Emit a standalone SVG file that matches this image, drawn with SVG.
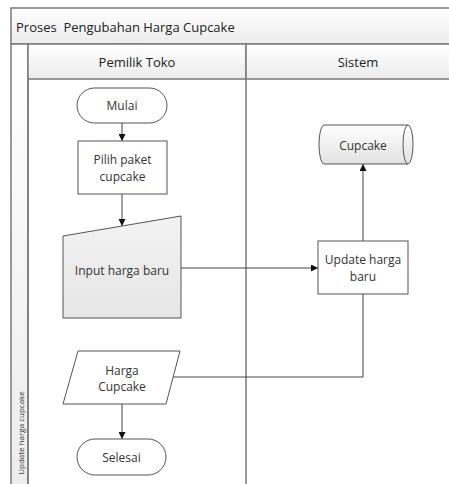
<svg xmlns="http://www.w3.org/2000/svg" width="449" height="484" viewBox="0 0 449 484">
<defs>
<linearGradient id="gBand" x1="0" y1="0" x2="0" y2="1">
<stop offset="0" stop-color="#ffffff"/><stop offset="1" stop-color="#ececec"/>
</linearGradient>
<linearGradient id="gShape" x1="0" y1="0" x2="0" y2="1">
<stop offset="0" stop-color="#f2f2f2"/><stop offset="1" stop-color="#e6e6e6"/>
</linearGradient>
<linearGradient id="gCyl" x1="0" y1="0" x2="0" y2="1">
<stop offset="0" stop-color="#ffffff"/><stop offset="1" stop-color="#e2e2e2"/>
</linearGradient>
<marker id="arr" viewBox="0 0 10 10" refX="10" refY="5" markerWidth="7" markerHeight="7" orient="auto" markerUnits="userSpaceOnUse">
<path d="M0,0 L10,5 L0,10 Z" fill="#111"/>
</marker>
</defs>
<style>
.frame{fill:none;stroke:#7a7a7a;stroke-width:1.5}
.node{fill:#ffffff;stroke:#555;stroke-width:1}
.t{font-family:"Open Sans","Liberation Sans",sans-serif;font-size:12px;fill:#333;text-anchor:middle;dominant-baseline:central}
.h{font-family:"Open Sans","Liberation Sans",sans-serif;font-size:13px;fill:#222;dominant-baseline:central;white-space:pre}
.c{fill:none;stroke:#444;stroke-width:1}
</style>
<rect width="449" height="484" fill="#ffffff"/>
<g id="pool">
<rect x="11" y="8" width="450" height="36" fill="url(#gBand)" stroke="#7a7a7a" stroke-width="1.5"/>
<text class="h" x="16" y="27" xml:space="preserve">Proses  Pengubahan Harga Cupcake</text>
<rect x="11" y="44" width="17" height="450" fill="url(#gBand)" stroke="#7a7a7a" stroke-width="1.5"/>
<text class="t" style="font-size:8px" transform="translate(20,433) rotate(-90)">Update harga cupcake</text>
</g>
<g id="lane-pemilik">
<rect x="28" y="44" width="218" height="35" fill="url(#gBand)" stroke="#7a7a7a" stroke-width="1.5"/>
<text class="h" x="137" y="62" text-anchor="middle">Pemilik Toko</text>
<line x1="28" y1="79" x2="28" y2="484" class="frame"/>
</g>
<g id="lane-sistem">
<rect x="246" y="44" width="224" height="35" fill="url(#gBand)" stroke="#7a7a7a" stroke-width="1.5"/>
<text class="h" x="358" y="62" text-anchor="middle">Sistem</text>
<line x1="246" y1="79" x2="246" y2="484" class="frame"/>
</g>
<g id="connectors">
<line class="c" x1="122" y1="123" x2="122" y2="141" marker-end="url(#arr)"/>
<line class="c" x1="122" y1="194" x2="122" y2="226" marker-end="url(#arr)"/>
<line class="c" x1="181" y1="268" x2="318" y2="268" marker-end="url(#arr)"/>
<line class="c" x1="363" y1="241" x2="363" y2="164" marker-end="url(#arr)"/>
<polyline class="c" points="363,294 363,377 173,377"/>
<line class="c" x1="122" y1="404" x2="122" y2="439" marker-end="url(#arr)"/>
</g>
<g id="mulai">
<rect class="node" x="77" y="88" width="90" height="35" rx="17.5"/>
<text class="t" x="122" y="105.5">Mulai</text>
</g>
<g id="pilih">
<rect class="node" x="78" y="141" width="89" height="53"/>
<text class="t" x="122.5" y="159">Pilih paket</text>
<text class="t" x="122.5" y="176">cupcake</text>
</g>
<g id="input">
<polygon class="node" points="63,236 181,216 181,318 63,318" style="fill:url(#gShape)"/>
<text class="t" x="122" y="270">Input harga baru</text>
</g>
<g id="cupcake">
<path class="node" d="M324,125 L408,125 A5,19.5 0 0 1 408,164 L324,164 A5,19.5 0 0 1 324,125 Z" style="fill:url(#gCyl)"/>
<path class="node" d="M408,125 A5,19.5 0 0 0 408,164" style="fill:none"/>
<text class="t" x="363" y="145">Cupcake</text>
</g>
<g id="update">
<rect class="node" x="318" y="241" width="90" height="53"/>
<text class="t" x="363" y="259">Update harga</text>
<text class="t" x="363" y="276">baru</text>
</g>
<g id="harga">
<polygon class="node" points="78,351 180,351 166,404 63,404"/>
<text class="t" x="122" y="370">Harga</text>
<text class="t" x="122" y="386">Cupcake</text>
</g>
<g id="selesai">
<rect class="node" x="77" y="439" width="89" height="36" rx="18"/>
<text class="t" x="121.5" y="457">Selesai</text>
</g>
</svg>
